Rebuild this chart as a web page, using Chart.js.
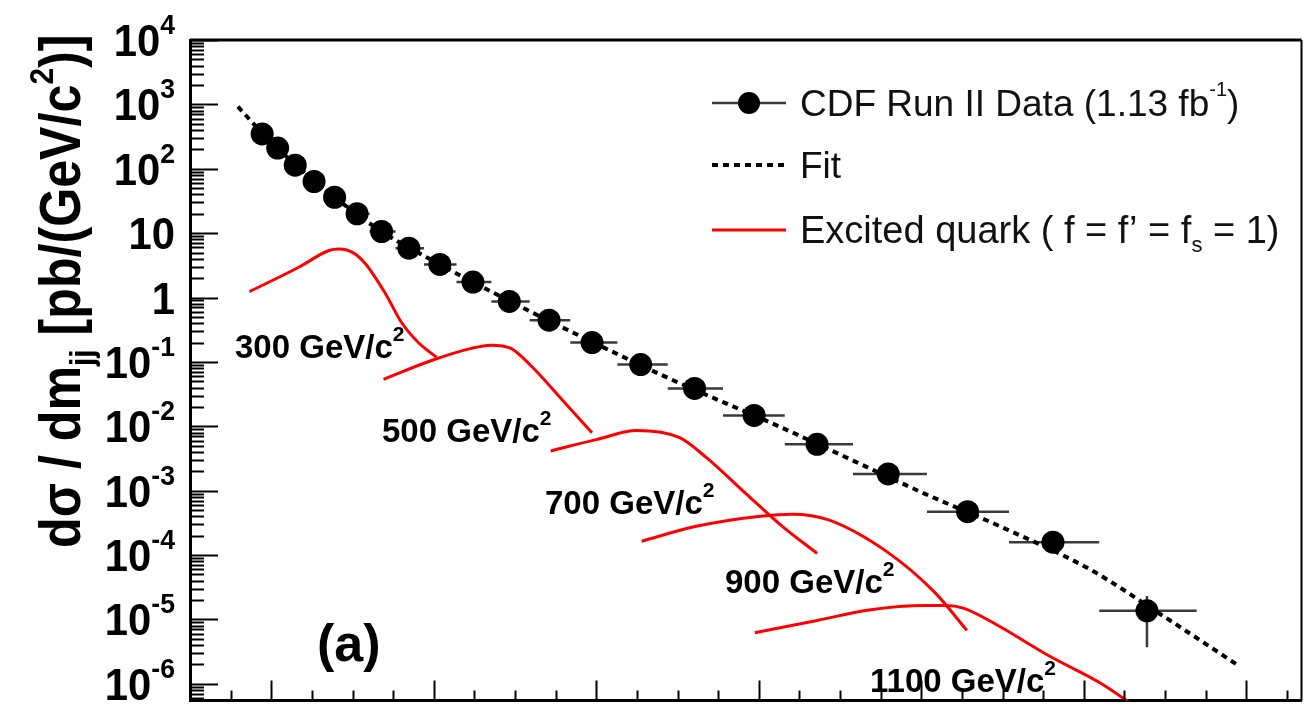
<!DOCTYPE html>
<html><head><meta charset="utf-8">
<script src="https://cdn.jsdelivr.net/npm/chart.js@4.4.1/dist/chart.umd.min.js"></script>
<style>html,body{margin:0;padding:0;background:#fff;}#wrap{width:1313px;height:712px;}</style>
</head><body><div id="wrap"><canvas id="c" width="1313" height="712"></canvas></div>
<script>
// ---- data (m_jj in GeV/c^2, dσ/dm in pb/(GeV/c^2)) ----
const dataMass = [188.8, 207.9, 229.5, 252.7, 278.0, 305.6, 335.8, 369.4, 407.5, 448.2, 493.0, 541.9, 594.8, 654.7, 721.0, 794.3, 871.8, 959.3, 1057.0, 1162.1, 1277.8];
const dataXsec = [347.6, 210, 113.7, 63.4, 36.1, 20.0, 10.6, 5.83, 3.26, 1.74, 0.869, 0.445, 0.200, 0.091, 0.0387, 0.01472, 0.00525, 0.00182, 4.72e-4, 1.58e-4, 1.36e-5];
const binEdges = [178, 198, 219, 241, 265, 292, 321, 353, 388, 428, 471, 518, 568, 626, 688, 756, 832, 916, 1007, 1108, 1219, 1339];
const dataLow  = [345, 208.5, 112.8, 62.8, 35.7, 19.8, 10.5, 5.77, 3.22, 1.72, 0.858, 0.438, 0.196, 0.0885, 0.0375, 0.0142, 0.0050, 0.00170, 4.3e-4, 1.15e-4, 3.7e-6];
const dataHigh = [350, 211.5, 114.6, 64.0, 36.5, 20.2, 10.7, 5.89, 3.30, 1.76, 0.880, 0.452, 0.204, 0.0935, 0.0399, 0.0152, 0.0055, 0.00194, 5.15e-4, 2.0e-4, 2.3e-5];

const fitMass = [159, 188.8, 229.5, 278, 335.8, 407.5, 493, 594.8, 688.5, 829, 1004, 1101.8, 1207.8, 1297.3, 1387.7];
const fitXsec = [923, 360, 116.6, 36.1, 10.6, 3.26, 0.885, 0.205, 0.0562, 0.00944, 9.0e-4, 2.62e-4, 5.97e-5, 1.14e-5, 2.02e-6];

const q300Mass = [173.3, 234.4, 271.0, 283.3, 299.5, 315.9, 340.3, 360.6, 381.0, 403.4];
const q300Xsec = [1.236, 2.98, 5.38, 5.69, 5.06, 3.35, 1.164, 0.405, 0.200, 0.118];
const q500Mass = [338.2, 397.3, 446.1, 470.6, 495.0, 519.4, 560.2, 594.8];
const q500Xsec = [0.0537, 0.105, 0.162, 0.182, 0.162, 0.0879, 0.0241, 0.00792];
const q700Mass = [543.9, 600.9, 649.8, 702.7, 735.3, 784.2, 829.0, 871.8];
const q700Xsec = [0.00414, 0.00625, 0.00859, 0.00664, 0.00328, 9.0e-4, 2.79e-4, 1.06e-4];
const q900Mass = [655.9, 723.1, 804.6, 841.2, 886.0, 959.3, 1016.3, 1056.2];
const q900Xsec = [1.64e-4, 2.79e-4, 4.04e-4, 4.30e-4, 3.51e-4, 1.09e-4, 2.65e-5, 6.76e-6];
const q1100Mass = [795.2, 871.9, 937.8, 1003.5, 1029.7, 1051.7, 1091.2, 1157.1, 1222.8, 1271.2];
const q1100Xsec = [6.19e-6, 9.64e-6, 1.41e-5, 1.64e-5, 1.64e-5, 1.50e-5, 8.49e-6, 2.72e-6, 9.86e-7, 3.78e-7];

const yDecades = [-6, -5, -4, -3, -2, -1, 0, 1, 2, 3, 4];
const xTickStep = 50, xMajorStep = 200;
const legendLabels = ['CDF Run II Data (1.13 fb', 'Fit', 'Excited quark ( f = f\u2019 = f'];
const massLabels = ['300', '500', '700', '900', '1100'];
const massLabelPos = [[235, 358], [382, 442], [545, 514], [725, 593], [870, 692]];
const yTitle = ['d\u03c3 / dm', 'jj', ' [pb/(GeV/c', '2', ')]'];

const toXY = (ms, vs) => ms.map((m, i) => ({x: m, y: vs[i]}));

const FONT = '"Liberation Sans", Arial, Helvetica, sans-serif';
function f(size, bold) { return (bold ? 'bold ' : '') + size + 'px ' + FONT; }

// rich text: parts = [{t, size, bold, dy}], draws left-aligned at x, baseline y; returns width
function rich(ctx, x, y, parts, measureOnly) {
  let cx = x;
  for (const p of parts) {
    ctx.font = f(p.size, p.bold);
    if (!measureOnly) ctx.fillText(p.t, cx, y + (p.dy || 0));
    cx += ctx.measureText(p.t).width + (p.gap || 0);
  }
  return cx - x;
}

const framePlugin = {
  id: 'frame',
  beforeDatasetsDraw(chart) {
    const ctx = chart.ctx, xs = chart.scales.x, ys = chart.scales.y, a = chart.chartArea;
    ctx.save();
    ctx.beginPath(); ctx.rect(a.left, a.top, a.right - a.left, a.bottom - a.top); ctx.clip();
    // error bars
    ctx.strokeStyle = '#3a3a3a'; ctx.lineWidth = 2.5;
    for (let i = 0; i < dataMass.length; i++) {
      const px = xs.getPixelForValue(dataMass[i]), py = ys.getPixelForValue(dataXsec[i]);
      ctx.beginPath();
      ctx.moveTo(xs.getPixelForValue(binEdges[i]), py); ctx.lineTo(xs.getPixelForValue(binEdges[i + 1]), py);
      ctx.moveTo(px, ys.getPixelForValue(dataLow[i])); ctx.lineTo(px, ys.getPixelForValue(dataHigh[i]));
      ctx.stroke();
    }
    ctx.restore();
  },
  afterDraw(chart) {
    const ctx = chart.ctx, xs = chart.scales.x, ys = chart.scales.y, a = chart.chartArea;
    ctx.save();
    ctx.strokeStyle = '#000'; ctx.fillStyle = '#000';
    // frame top & right
    ctx.lineWidth = 3;
    ctx.beginPath(); ctx.moveTo(a.left, a.top); ctx.lineTo(a.right, a.top); ctx.stroke();
    ctx.lineWidth = 2;
    ctx.beginPath(); ctx.moveTo(a.right, a.top); ctx.lineTo(a.right, a.bottom); ctx.stroke();
    // y ticks (inward)
    ctx.lineWidth = 2;
    for (let k = -7; k <= 4; k++) {
      for (let m = 1; m <= 9; m++) {
        const v = m * Math.pow(10, k);
        if (v < ys.min * 0.999 || v > ys.max * 1.001) continue;
        const py = Math.round(ys.getPixelForValue(v)) + 0.5;
        const len = m === 1 ? 28 : 14;
        ctx.beginPath(); ctx.moveTo(a.left, py); ctx.lineTo(a.left + len, py); ctx.stroke();
      }
    }
    // x ticks (inward)
    for (let v = Math.ceil(xs.min / xTickStep) * xTickStep; v <= xs.max; v += xTickStep) {
      const px = Math.round(xs.getPixelForValue(v)) + 0.5;
      const len = v % xMajorStep === 0 ? 20 : 10;
      ctx.beginPath(); ctx.moveTo(px, a.bottom); ctx.lineTo(px, a.bottom - len); ctx.stroke();
    }
    // y tick labels
    ctx.textAlign = 'left'; ctx.textBaseline = 'alphabetic';
    const rightX = 175;
    for (const k of yDecades) {
      const py = ys.getPixelForValue(Math.pow(10, k));
      let parts;
      if (k === 0) parts = [{t: '1', size: 44, bold: true}];
      else if (k === 1) parts = [{t: '10', size: 44, bold: true}];
      else parts = [{t: '10', size: 44, bold: true}, {t: (k < 0 ? '-' : '') + Math.abs(k), size: 28, bold: true, dy: -22}];
      ctx.save();
      ctx.translate(rightX, py + 16);
      ctx.scale(0.95, 1);
      const w = rich(ctx, 0, 0, parts, true);
      rich(ctx, -w, 0, parts);
      ctx.restore();
    }
    // y axis title (rotated)
    ctx.save();
    ctx.translate(80, 548); ctx.rotate(-Math.PI / 2); ctx.scale(0.88, 1);
    rich(ctx, 0, 0, [
      {t: yTitle[0], size: 57, bold: true},
      {t: yTitle[1], size: 34, bold: true, dy: 13},
      {t: yTitle[2], size: 57, bold: true},
      {t: yTitle[3], size: 34, bold: true, dy: -27},
      {t: yTitle[4], size: 57, bold: true}
    ]);
    ctx.restore();
    // mass labels
    massLabels.forEach((lab, i) => {
      const [x, y] = massLabelPos[i];
      rich(ctx, x, y, [{t: lab + ' GeV/c', size: 33, bold: true}, {t: '2', size: 21, bold: true, dy: -17}]);
    });
    // (a)
    ctx.font = f(52, true);
    ctx.fillText('(a)', 317, 661);
    // legend
    const lx1 = 712, lx2 = 786, tx = 800;
    const rows = [103, 165, 230];
    // row 1: data marker
    ctx.strokeStyle = '#3a3a3a'; ctx.lineWidth = 2.5;
    ctx.beginPath(); ctx.moveTo(lx1, rows[0]); ctx.lineTo(lx2, rows[0]); ctx.stroke();
    ctx.beginPath(); ctx.arc((lx1 + lx2) / 2, rows[0], 11, 0, Math.PI * 2); ctx.fillStyle = '#000'; ctx.fill();
    // row 2: fit
    ctx.strokeStyle = '#000'; ctx.lineWidth = 4; ctx.setLineDash([6, 5]);
    ctx.beginPath(); ctx.moveTo(lx1, rows[1]); ctx.lineTo(lx2, rows[1]); ctx.stroke();
    ctx.setLineDash([]);
    // row 3: red
    ctx.strokeStyle = '#ff0000'; ctx.lineWidth = 3;
    ctx.beginPath(); ctx.moveTo(lx1, rows[2]); ctx.lineTo(lx2, rows[2]); ctx.stroke();
    ctx.fillStyle = '#111';
    rich(ctx, tx, rows[0] + 13, [{t: legendLabels[0], size: 37}, {t: '-1', size: 20, dy: -20}, {t: ')', size: 37}]);
    rich(ctx, tx, rows[1] + 13, [{t: legendLabels[1], size: 37}]);
    rich(ctx, tx, rows[2] + 13, [{t: legendLabels[2], size: 38}, {t: 's', size: 22, dy: 9}, {t: ' = 1)', size: 38}]);
    ctx.restore();
  }
};

const redLine = (ms, vs) => ({
  label: 'Excited quark', data: toXY(ms, vs), showLine: true, borderColor: '#ff0000', borderWidth: 3,
  pointRadius: 0, fill: false, cubicInterpolationMode: 'monotone'
});

new Chart(document.getElementById('c'), {
  type: 'scatter',
  data: {
    datasets: [
      {label: 'Fit', data: toXY(fitMass, fitXsec), showLine: true, borderColor: '#000', borderWidth: 4,
       borderDash: [6, 5], pointRadius: 0, cubicInterpolationMode: 'monotone', order: 2},
      Object.assign(redLine(q300Mass, q300Xsec), {order: 3}),
      Object.assign(redLine(q500Mass, q500Xsec), {order: 3}),
      Object.assign(redLine(q700Mass, q700Xsec), {order: 3}),
      Object.assign(redLine(q900Mass, q900Xsec), {order: 3}),
      Object.assign(redLine(q1100Mass, q1100Xsec), {order: 3}),
      {label: 'CDF Run II Data', data: toXY(dataMass, dataXsec), showLine: false, pointRadius: 11.5,
       pointBackgroundColor: '#000', pointBorderWidth: 0, order: 1}
    ]
  },
  options: {
    responsive: false, animation: false, devicePixelRatio: 1, events: [],
    layout: {padding: {top: 40, right: 3, left: 0, bottom: 0}},
    plugins: {legend: {display: false}, tooltip: {enabled: false}, title: {display: false}},
    scales: {
      x: {type: 'linear', min: 100, max: 1468,
          ticks: {display: false}, grid: {display: false},
          border: {display: true, color: '#000', width: 3},
          afterFit(s) { s.height = 2; }},
      y: {type: 'logarithmic', min: 5.5e-7, max: 1e4,
          ticks: {display: false}, grid: {display: false},
          border: {display: true, color: '#000', width: 3},
          afterFit(s) { s.width = 190; }}
    }
  },
  plugins: [framePlugin]
});
</script></body></html>
